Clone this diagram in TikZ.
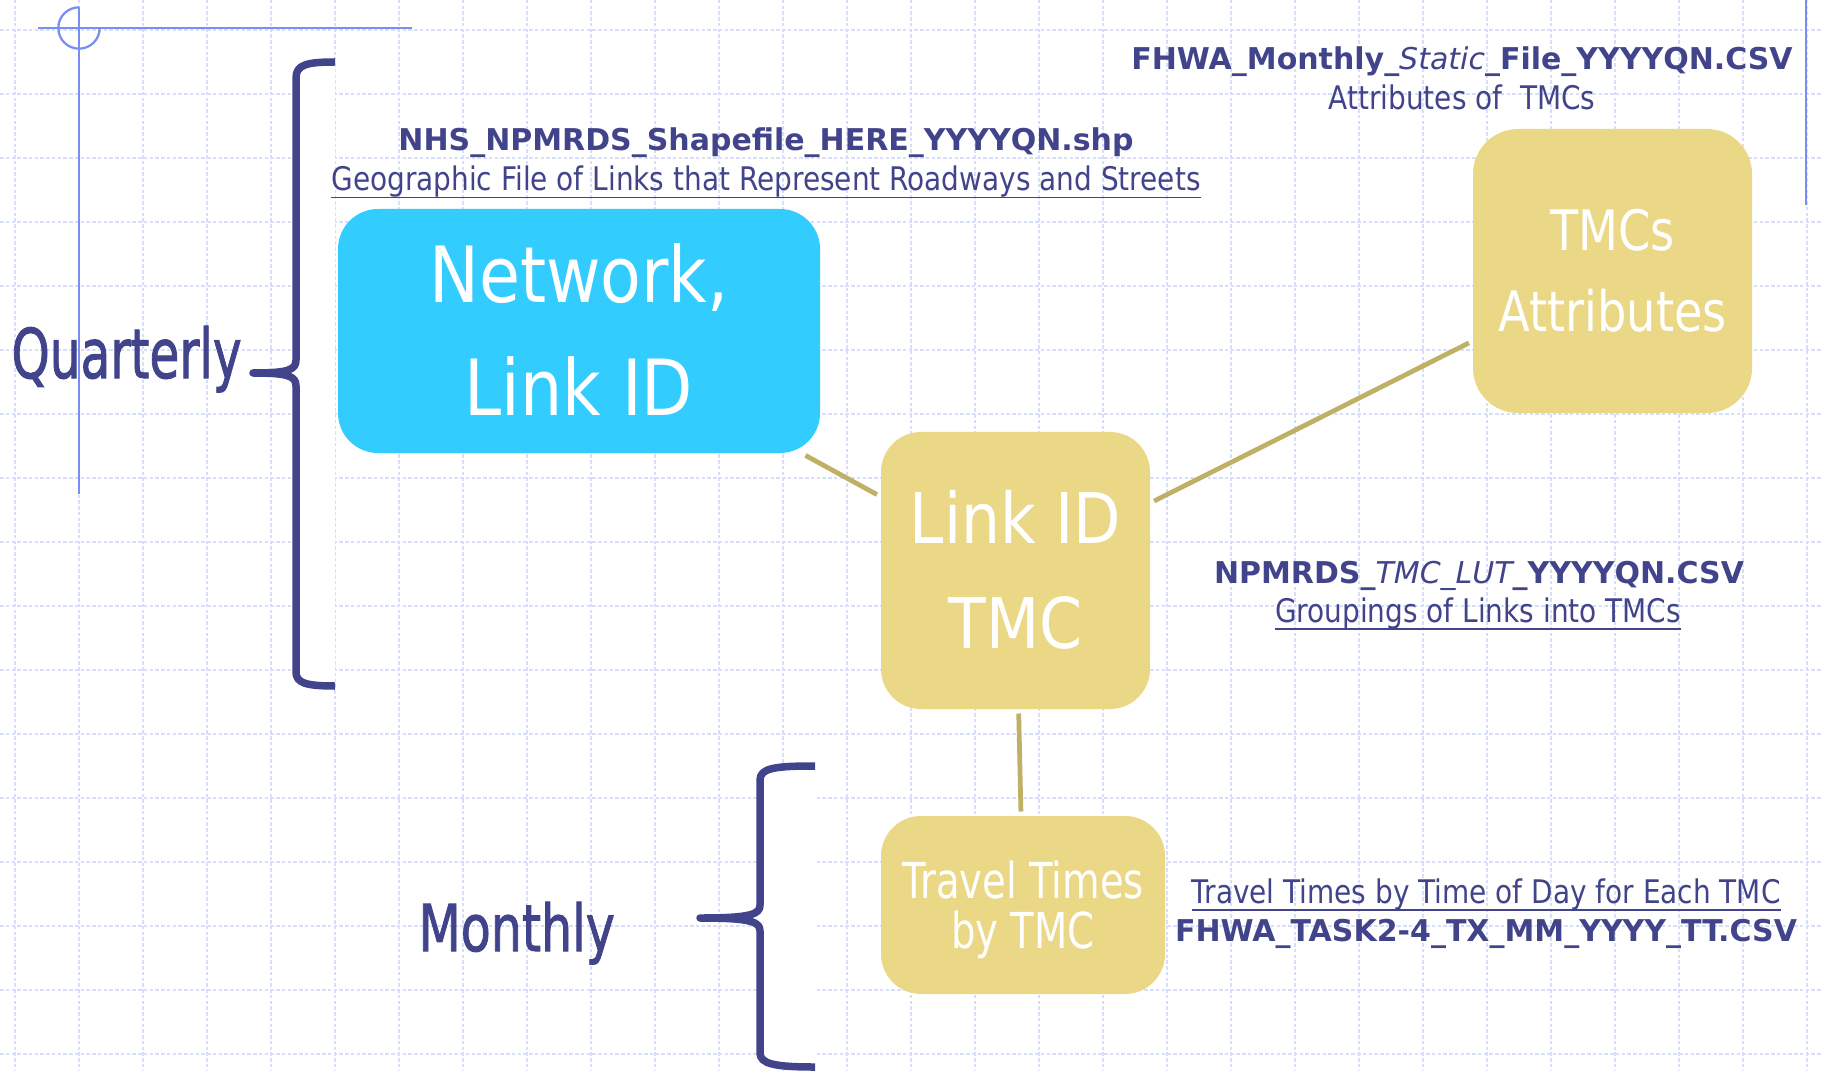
\documentclass[tikz,border=0pt]{standalone}
\usepackage{fontspec}
\setmainfont{DejaVu Sans}
\newfontfamily\periodfont{DejaVu Sans}[FakeBold=1.6]
\usepackage{graphicx}

\definecolor{ink}{RGB}{65,68,138}
\definecolor{gridblue}{RGB}{214,222,249}
\definecolor{guide}{RGB}{120,142,240}
\definecolor{netcyan}{RGB}{51,204,255}
\definecolor{sand}{RGB}{235,216,134}
\definecolor{olive}{RGB}{192,176,102}

% horizontal squeeze of a piece of text
\newcommand\hs[2]{\scalebox{#1}[1]{#2}}
% two centred lines, baseline of the box on the first line
\newcommand\twolines[2]{\vtop{\halign{\hfil##\hfil\cr#1\cr#2\cr}}}
% underlined caption
\newsavebox\ulbox
\newcommand\ulabel[1]{\sbox\ulbox{#1}\rlap{\rule[-3pt]{\wd\ulbox}{0.75pt}}\usebox\ulbox}

\begin{document}
\begin{tikzpicture}[x=0.4pt,y=-0.4pt,
  gridline/.style={gridblue, line width=0.5pt, dash pattern=on 1.4pt off 0.9pt},
  guideline/.style={guide, line width=0.9pt},
  bracket/.style={ink, line width=3pt, line join=round, line cap=butt},
  card/.style={rounded corners=16pt, inner sep=0pt, text=white},
  tie/.style={olive, line width=1.9pt, shorten <=1.6pt, shorten >=1.6pt},
  fname/.style={ink, inner sep=0pt, anchor=base, font=\fontsize{12}{14}\selectfont\bfseries},
  fdesc/.style={ink, inner sep=0pt, anchor=base, font=\fontsize{13}{15}\selectfont},
  period/.style={ink, inner sep=0pt, anchor=base west},
]
\useasboundingbox (0,0) rectangle (1823,1071);
\fill[white] (0,0) rectangle (1823,1071);

% background grid
\foreach \gx in {0,...,28}
  \draw[gridline] ({15+64*\gx},0) -- ({15+64*\gx},1071);
\foreach \gy in {0,...,16}
  \draw[gridline] (0,{30+64*\gy}) -- (1823,{30+64*\gy});

% slide guide marks
\draw[guideline] (38,28) -- (412,28);
\draw[guideline] (79,7) -- (79,494);
\draw[guideline] (79,28) ++(20.7,0) arc[start angle=0,end angle=270,radius=20.7];
\draw[guideline] (1806,0) -- (1806,205);

% quarterly brace
\fill[white] (298,62) rectangle (335,686);
\draw[bracket] (335,62) .. controls (306,62) and (296,65) .. (296,78) -- (296,360)
  .. controls (296,370) and (288,373) .. (253,373)
  .. controls (288,373) and (296,376) .. (296,386) -- (296,672)
  .. controls (296,683) and (306,686) .. (335,686);

% monthly brace
\fill[white] (762,766) rectangle (815,1067);
\draw[bracket] (815,766) .. controls (775,766) and (760,768) .. (760,780) -- (760,905)
  .. controls (760,914) and (752,918) .. (700,918)
  .. controls (752,918) and (760,922) .. (760,931) -- (760,1053)
  .. controls (760,1064) and (775,1067) .. (815,1067);

% data blocks
\node[card, fill=netcyan, minimum width=192.8pt, minimum height=97.6pt,
  font=\fontsize{31}{45.2}\selectfont, text height=22.6pt, text depth=45.2pt]
  (net) at (579,331) {\twolines{\hs{0.86}{Network,}}{\hs{0.86}{Link ID}}};
\node[card, fill=sand, minimum width=107.6pt, minimum height=110.8pt,
  font=\fontsize{28}{42}\selectfont, text height=20.4pt, text depth=42pt]
  (tmc) at (1015.5,570.5) {\twolines{\hs{0.88}{Link ID}}{\hs{0.88}{TMC}}};
\node[card, rounded corners=18pt, fill=sand, minimum width=111.6pt, minimum height=113.6pt,
  font=\fontsize{22.3}{32.4}\selectfont, text height=16.3pt, text depth=32.4pt]
  (attr) at (1612.5,271) {\twolines{\hs{0.83}{TMCs}}{\hs{0.83}{Attributes}}};
\node[card, fill=sand, minimum width=113.6pt, minimum height=71.2pt,
  font=\fontsize{19.8}{20}\selectfont, text height=14.4pt, text depth=20pt]
  (travel) at (1023,905) {\twolines{\hs{0.78}{Travel Times}}{\hs{0.78}{by TMC}}};

% links between blocks
\draw[tie] (net) -- (tmc);
\draw[tie] (tmc) -- (attr);
\draw[tie] (tmc) -- (travel);

% file names and descriptions
\node[fname] (staticname) at (1462,70) {FHWA\_Monthly\_{\mdseries\itshape Static}\_File\_YYYYQN.CSV};
\node[fdesc] (staticdesc) at (1462,110) {\hs{0.86}{Attributes of\ \ TMCs}};
\node[fname] (shapename) at (766,151) {NHS\_NPMRDS\_Shapefile\_HERE\_YYYYQN.shp};
\node[fdesc] (shapedesc) at (766,191) {\hs{0.86}{\ulabel{Geographic File of Links that Represent Roadways and Streets}}};
\node[fname] (lutname) at (1479,583) {NPMRDS\_{\mdseries\itshape TMC\_LUT}\_YYYYQN.CSV};
\node[fdesc] (lutdesc) at (1478,622) {\hs{0.86}{\ulabel{Groupings of Links into TMCs}}};
\node[fdesc] (ttdesc) at (1486,903) {\hs{0.86}{\ulabel{Travel Times by Time of Day for Each TMC}}};
\node[fname] (ttname) at (1486,941) {FHWA\_TASK2-4\_TX\_MM\_YYYY\_TT.CSV};

% update periods
\node[period, font=\periodfont\fontsize{27.4}{30}\selectfont] (quarterly) at (11,378) {\hs{0.71}{Quarterly}};
\node[period, font=\periodfont\fontsize{25.8}{30}\selectfont] (monthly) at (418,951) {\hs{0.76}{Monthly}};
\end{tikzpicture}
\end{document}
